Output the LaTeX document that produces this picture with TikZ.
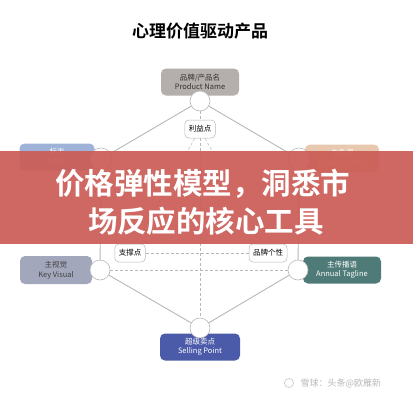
\documentclass[tikz,border=0pt]{standalone}
\usepackage{fontspec}
\setmainfont{Noto Sans CJK SC}[BoldFont={* Bold}]
\definecolor{pnfill}{HTML}{B4AEAC}
\definecolor{logofill}{HTML}{9FB3D8}
\definecolor{tonefill}{HTML}{E8C9B0}
\definecolor{kvfill}{HTML}{A3A7BB}
\definecolor{atfill}{HTML}{4E7B77}
\definecolor{spfill}{HTML}{4B5BA9}
\definecolor{banner}{HTML}{CB5C55}
\definecolor{linegray}{HTML}{B8B8B8}
\pgfdeclarelayer{bgl}
\pgfdeclarelayer{edges}
\pgfsetlayers{bgl,edges,main}
\begin{document}
\begin{tikzpicture}[x=1pt,y=-1pt,
  hub/.style={circle, draw=linegray, fill=white, minimum size=20pt, inner sep=0pt, line width=0.6pt},
  box/.style={rounded corners=5pt, minimum width=78pt, minimum height=27pt, align=center,
    font=\fontsize{7.5}{9.5}\selectfont, inner sep=1pt},
  tagbox/.style={draw=linegray, fill=white, rounded corners=4pt, font=\fontsize{7.5}{9}\selectfont,
    minimum height=18pt, inner xsep=4pt, line width=0.5pt},
  hexedge/.style={draw=linegray, line width=0.9pt},
  dline/.style={draw=linegray, dash pattern=on 3pt off 2pt, line width=0.5pt},
  bannertext/.style={text=white, font=\fontsize{29.5}{31}\bfseries\selectfont}
]
\useasboundingbox (0,0) rectangle (413,400);
\begin{pgfonlayer}{bgl}
  \fill[white] (0,0) rectangle (413,400);
\end{pgfonlayer}

% title
\node[font=\fontsize{17}{19}\bfseries\selectfont] (title) at (200,31) {心理价值驱动产品};

% boxes
\node[box, fill=pnfill, text=black!80] (pn) at (200,82) {品牌/产品名\\Product Name};
\node[box, fill=logofill, text=white, minimum width=75pt] (logo) at (57,157) {标志\\Logo};
\node[box, fill=tonefill, text=white, minimum width=74pt] (tone) at (342,158) {主色调\\Tonality Chart};
\node[box, fill=kvfill, text=black!75, minimum width=72pt, minimum height=28pt] (kv) at (56,270) {主视觉\\Key Visual};
\node[box, fill=atfill, text=white, minimum width=78pt] (at) at (342,270) {主传播语\\Annual Tagline};
\node[box, fill=spfill, text=white, minimum width=80pt] (sp) at (200,347) {超级卖点\\Selling Point};

% hubs
\node[hub] (t) at (200,101) {};
\node[hub, minimum size=22pt] (ul) at (101,159) {};
\node[hub, minimum size=22pt] (ur) at (299,159) {};
\node[hub] (ll) at (100,270) {};
\node[hub] (lr) at (298,270) {};
\node[hub] (b) at (200,328) {};

% inner tags
\node[tagbox] (benefit) at (200,129) {利益点};
\node[tagbox] (support) at (130,253) {支撑点};
\node[tagbox] (person) at (268,253) {品牌个性};

\begin{pgfonlayer}{edges}
  \draw[hexedge] (t.center) -- (ul.center) -- (ll.center) -- (b.center) -- (lr.center) -- (ur.center) -- (t.center);
  \draw[dline] (t) -- (benefit);
  \draw[dline] (benefit) -- (support);
  \draw[dline] (benefit) -- (person);
  \draw[dline] (benefit) -- (b);
  \draw[dline] (support) -- (person);
  \draw[dline] (ll) -- (lr);
\end{pgfonlayer}

% watermark
\node[circle, draw=gray!45, line width=0.6pt, minimum size=9pt, inner sep=0pt] (wlogo) at (289,383) {};
\node[anchor=west, text=gray!55, font=\fontsize{9}{10}\selectfont] (wm) at (297,383) {雪球：头条@欧雁新};

% banner
\fill[banner, opacity=0.92] (0,151) rectangle (413,244);
\node[bannertext] (l1) at (203,184) {价格弹性模型，洞悉市};
\node[bannertext] (l2) at (206,221) {场反应的核心工具};
\end{tikzpicture}
\end{document}
